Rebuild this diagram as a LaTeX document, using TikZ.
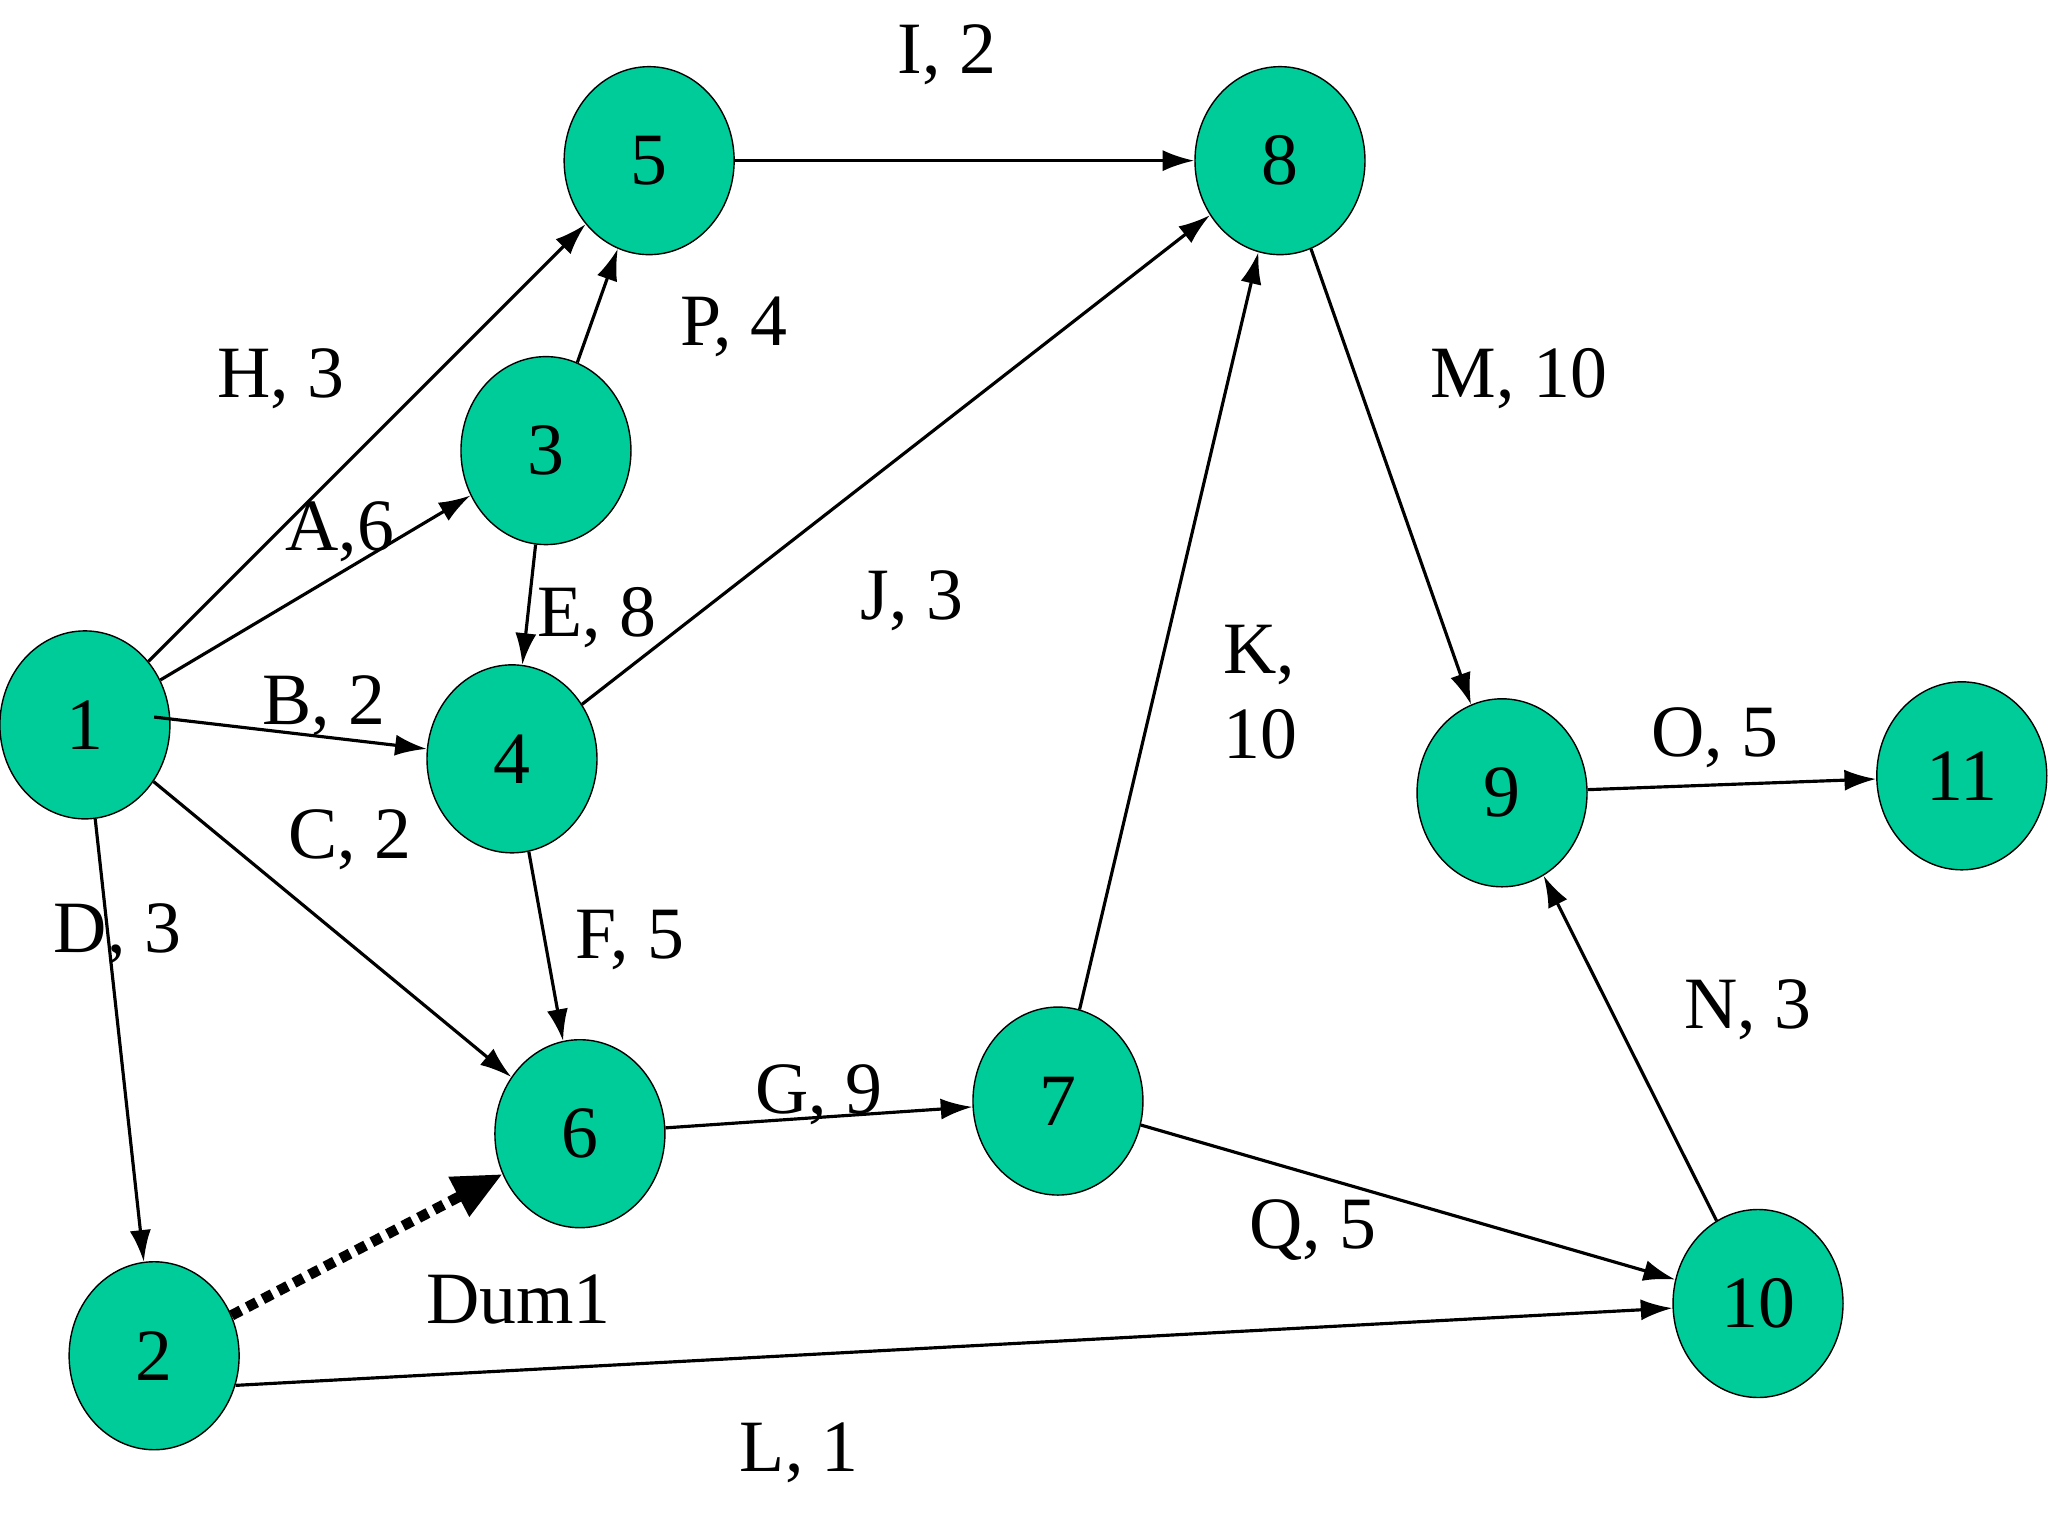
\documentclass[tikz,border=0pt]{standalone}
\usepackage{fontspec}
\setmainfont{Liberation Serif}
\usetikzlibrary{shapes.geometric,arrows.meta}
\begin{document}
\begin{tikzpicture}[x=0.013061cm,y=-0.013061cm,
  nd/.style={ellipse,draw=black,fill={rgb,255:red,0;green,204;blue,153},minimum width=130\pgflinewidth*0+1.7cm,minimum height=1.88cm,inner sep=0pt,font=\fontsize{21}{24}\selectfont},
  ar/.style={-{Latex[length=9pt,width=6pt]},line width=0.9pt},
  lb/.style={font=\fontsize{21}{24}\selectfont,inner sep=0pt}]
\useasboundingbox (0,0) rectangle (1568,1176);
\node[nd] (n1) at (65,555) {1};
\node[nd] (n2) at (118,1038) {2};
\node[nd] (n3) at (418,345) {3};
\node[nd] (n4) at (392,581) {4};
\node[nd] (n5) at (497,123) {5};
\node[nd] (n6) at (444,868) {6};
\node[nd] (n7) at (810,843) {7};
\node[nd] (n8) at (980,123) {8};
\node[nd] (n9) at (1150,607) {9};
\node[nd] (n10) at (1346,998) {10};
\node[nd] (n11) at (1502,594) {11};
\draw[ar] (n5) -- (n8);
\draw[ar] (n1) -- (n5);
\draw[ar] (n3) -- (n5);
\draw[ar] (n1) -- (n3);
\draw[ar] (n3) -- (n4);
\draw[ar] (n4) -- (n8);
\draw[ar] (n1.center) ++(53,-6) coordinate (b1) (b1) -- (n4);
\draw[ar] (n1) -- (n6);
\draw[ar] (n1) -- (n2);
\draw[ar] (n4) -- (n6);
\draw[ar] (n6) -- (n7);
\draw[ar] (n7) -- (n8);
\draw[ar] (n8) -- (n9);
\draw[ar] (n9) -- (n11);
\draw[ar] (n10) -- (n9);
\draw[ar] (n7) -- (n10);
\draw[ar] (n2.-20) -- (n10);
\draw[-{Triangle[length=14pt,width=12pt]},line width=3pt,dotted] (n2) -- (n6);
\node[lb] at (725,42) {I, 2};
\node[lb] at (562,250) {P, 4};
\node[lb] at (215,290) {H, 3};
\node[lb] at (1163,290) {M, 10};
\node[lb] at (260,407) {A,6};
\node[lb] at (457,473) {E, 8};
\node[lb] at (698,460) {J, 3};
\node[lb,align=left,anchor=west] at (936,530) {K,\\10};
\node[lb] at (248,540) {B, 2};
\node[lb] at (1313,565) {O, 5};
\node[lb] at (268,643) {C, 2};
\node[lb] at (90,715) {D, 3};
\node[lb] at (482,720) {F, 5};
\node[lb] at (1338,773) {N, 3};
\node[lb] at (627,838) {G, 9};
\node[lb] at (1005,942) {Q, 5};
\node[lb] at (397,995) {Dum1};
\node[lb] at (612,1112) {L, 1};
\end{tikzpicture}
\end{document}
